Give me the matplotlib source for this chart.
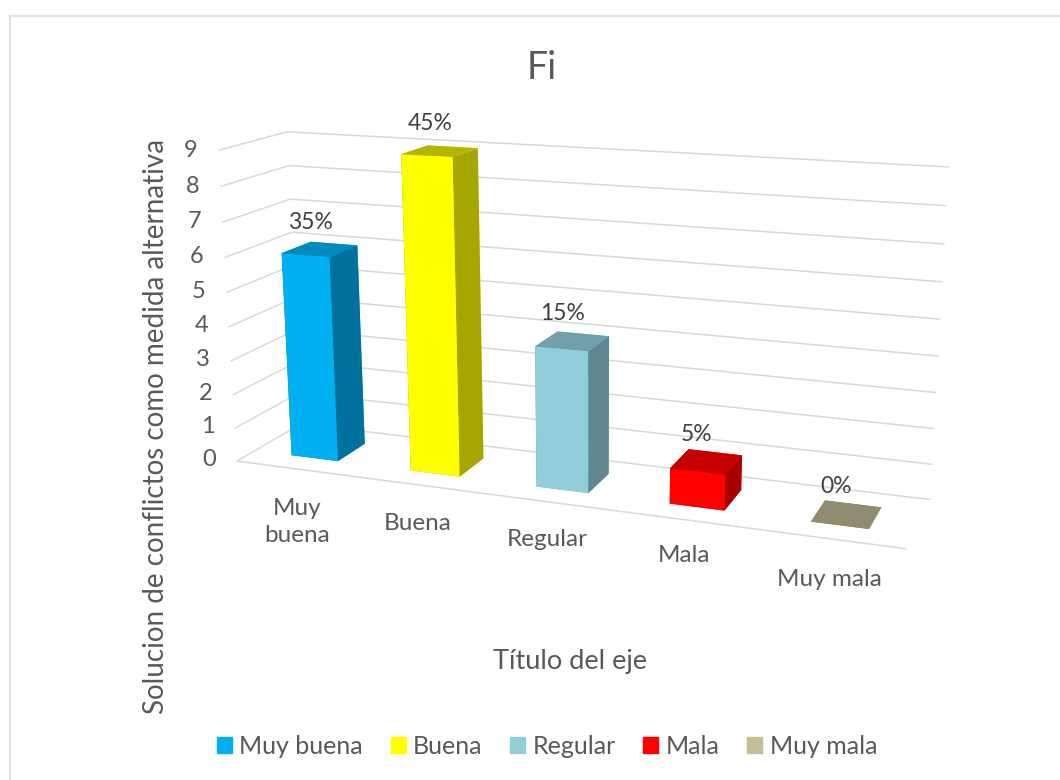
import matplotlib
matplotlib.use('Agg')
import matplotlib.pyplot as plt
import numpy as np
from matplotlib.patches import Patch, Rectangle
from mpl_toolkits.mplot3d import proj3d

plt.rcParams['font.family'] = ['Lato', 'DejaVu Sans']

categorias = ['Muy buena', 'Buena', 'Regular', 'Mala', 'Muy mala']
etiquetas_eje = ['Muy\nbuena', 'Buena', 'Regular', 'Mala', 'Muy mala']
valores = [6, 9, 4, 1, 0]
porcentajes = ['35%', '45%', '15%', '5%', '0%']
niveles = np.arange(0, 10)

# colores: frente, arriba, lado
frente = ['#00b0f0', '#ffff00', '#92cddc', '#ff0000', '#c4bd97']
arriba = ['#0089bb', '#b5b500', '#71a0ab', '#c40000', '#918c70']
lado = ['#00719c', '#a6a600', '#5f8691', '#a60000', '#918c70']

GRIS = '#595959'
LINEA = '#d9d9d9'
ANCHO = 0.395
Y0, Y1 = 0.27, 0.72

# esquinas de la caja del grafico: (x, y, z) -> pixel de la imagen
mundo = [(0, 0, 0), (0, 0, 9), (0, 1, 0), (0, 1, 9), (5, 1, 0), (5, 1, 9), (5, 0, 0)]
pixel = [(238, 461), (218, 150), (300, 424), (288, 132), (930, 499), (948, 167), (905, 549)]

filas = []
for (x, y, z), (u, v) in zip(mundo, pixel):
    filas.append([x, y, z, 1, 0, 0, 0, 0, -u*x, -u*y, -u*z, -u])
    filas.append([0, 0, 0, 0, x, y, z, 1, -v*x, -v*y, -v*z, -v])
p = np.linalg.svd(np.array(filas, dtype=float))[2][-1].reshape(3, 4)
p = p / p[2, 3]
M = np.array([p[0], p[1], [-0.01, 1, -0.01, 0], p[2]])

fig = plt.figure(figsize=(10.6, 7.8), dpi=100)
ax = fig.add_axes([0, 0, 1, 1], projection='3d', computed_zorder=False, proj_type='ortho')
ax.apply_aspect = lambda position=None: None
ax.get_proj = lambda: M
ax.viewLim.intervalx = (0, 1060)
ax.viewLim.intervaly = (780, 0)
ax.set_xticks([])
ax.set_yticks([])
ax.set_zticks([])
ax.set_axis_off()


def texto(u, v, s, **kw):
    fig.text(u / 1060, 1 - v / 780, s, color=kw.pop('color', GRIS), **kw)


def texto3d(x, y, z, s, **kw):
    u, v, _ = proj3d.proj_transform(x, y, z, M)
    texto(u, v, s, **kw)


# lineas de division en las paredes
for z in niveles:
    ax.plot([0, 0, 5], [0, 1, 1], [z, z, z], color=LINEA, lw=1.1, zorder=1)
ax.plot([0, 5], [0, 0], [0, 0], color=LINEA, lw=1.1, zorder=1)

for i, v in enumerate(valores):
    x = i + (1 - ANCHO) / 2 + 0.015
    caras = [arriba[i], arriba[i], frente[i], frente[i], lado[i], lado[i]]
    ax.bar3d(x, Y0, 0, ANCHO, Y1 - Y0, v, color=caras, shade=False, linewidth=0, zorder=2 + i)
    texto3d(i + 0.44, (Y0 + Y1) / 2, v + 0.45, porcentajes[i], color='#404040', fontsize=16.5,
            ha='center', va='bottom')

for z in niveles:
    texto3d(-0.24, 0, z - 0.05, str(z), fontsize=17, ha='center', va='center')

pos_cat = [(297, 522), (418, 523), (547, 540), (684, 555), (829, 579)]
for (u, v), et in zip(pos_cat, etiquetas_eje):
    texto(u, v, et, fontsize=17.5, ha='center', va='center', linespacing=1.3)

texto(542, 68, 'Fi', fontsize=27, ha='center', va='center')
texto(570, 662, 'Título del eje', fontsize=19.5, ha='center', va='center')
texto(156, 426, 'Solucion de conflictos como medida alternativa', fontsize=20, rotation=90,
      ha='center', va='center')

handles = [Patch(color=c) for c in frente]
fig.legend(handles, categorias, ncol=5, loc='center', bbox_to_anchor=(547 / 1060, 1 - 746 / 780),
           frameon=False, fontsize=18, labelcolor=GRIS, handlelength=0.6, handleheight=0.6,
           handletextpad=0.3, columnspacing=1.1)

# borde del area del grafico
fig.add_artist(Rectangle((10 / 1060, -0.02), 1080 / 1060, 1 - 16 / 780 + 0.02, transform=fig.transFigure,
                         fill=False, edgecolor='#e3e3e3', lw=1.5))

fig.savefig('out.png', dpi=100)
